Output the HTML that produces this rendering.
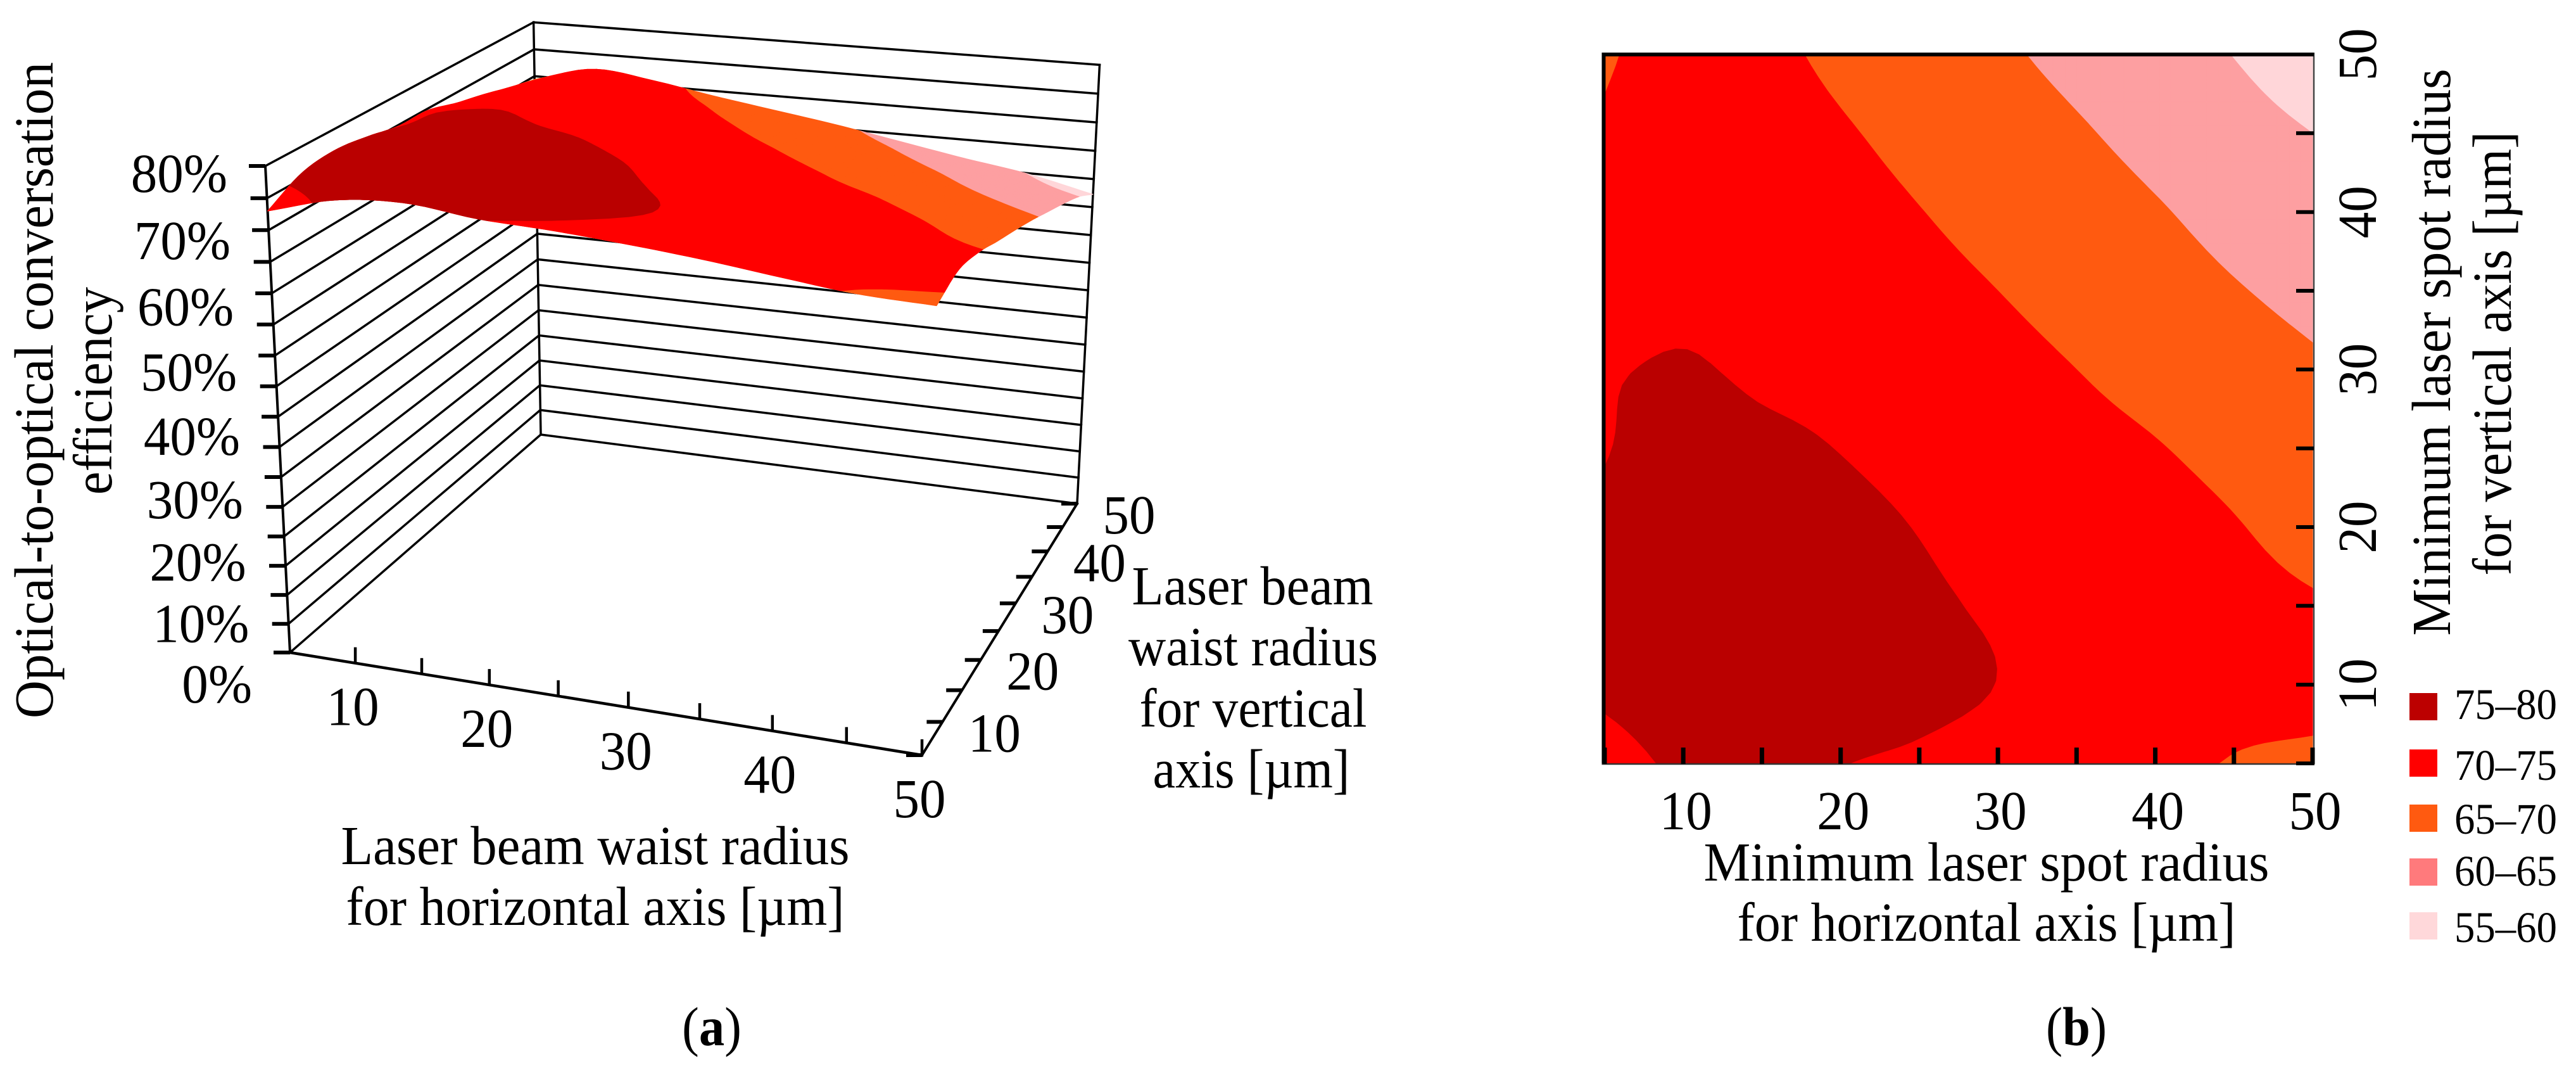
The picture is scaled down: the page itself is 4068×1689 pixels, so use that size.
<!DOCTYPE html>
<html lang="en">
<head>
<meta charset="utf-8">
<title>Optical-to-optical conversion efficiency</title>
<style>
html,body{margin:0;padding:0;background:#fff;width:4068px;height:1689px;overflow:hidden}
svg{display:block}
text{font-family:"Liberation Serif","Times New Roman",serif;fill:#000;font-size:87px}
.leg{font-size:69px}
</style>
</head>
<body>
<svg id="figure" xmlns="http://www.w3.org/2000/svg" width="4068" height="1689" viewBox="0 0 4068 1689">
  <rect x="0" y="0" width="4068" height="1689" fill="#fff"/>
  <g id="panelA"></g>
  <g id="panelB"></g>

  <text transform="translate(83,616) rotate(-90)" text-anchor="middle" textLength="1036" lengthAdjust="spacingAndGlyphs">Optical-to-optical conversation</text>
  <text transform="translate(176,617) rotate(-90)" text-anchor="middle" textLength="328" lengthAdjust="spacingAndGlyphs">efficiency</text>
  <text x="940" y="1364" text-anchor="middle" textLength="803" lengthAdjust="spacingAndGlyphs">Laser beam waist radius</text>
  <text x="940" y="1460" text-anchor="middle" textLength="787" lengthAdjust="spacingAndGlyphs">for horizontal axis [µm]</text>
  <text x="1978" y="954" text-anchor="middle" textLength="381" lengthAdjust="spacingAndGlyphs">Laser beam</text>
  <text x="1979" y="1050" text-anchor="middle" textLength="394" lengthAdjust="spacingAndGlyphs">waist radius</text>
  <text x="1979" y="1147" text-anchor="middle" textLength="359" lengthAdjust="spacingAndGlyphs">for vertical</text>
  <text x="1976" y="1243" text-anchor="middle" textLength="311" lengthAdjust="spacingAndGlyphs">axis [µm]</text>
  <text x="1124" y="1650" text-anchor="middle" textLength="94" lengthAdjust="spacingAndGlyphs">(<tspan font-weight="bold">a</tspan>)</text>

  <text x="3137" y="1390" text-anchor="middle" textLength="893" lengthAdjust="spacingAndGlyphs">Minimum laser spot radius</text>
  <text x="3137" y="1485" text-anchor="middle" textLength="787" lengthAdjust="spacingAndGlyphs">for horizontal axis [µm]</text>
  <text transform="translate(3869,556) rotate(-90)" text-anchor="middle" textLength="895" lengthAdjust="spacingAndGlyphs">Minimum laser spot radius</text>
  <text transform="translate(3965,558) rotate(-90)" text-anchor="middle" textLength="701" lengthAdjust="spacingAndGlyphs">for vertical axis [µm]</text>
  <text x="3279" y="1650" text-anchor="middle" textLength="96" lengthAdjust="spacingAndGlyphs">(<tspan font-weight="bold">b</tspan>)</text>

  <g id="legend"></g>
</svg>
<script>
// ---- data ----
const xValues = [5, 10, 15, 20, 25, 30, 35, 40, 45, 50];
const yValues = [5, 10, 15, 20, 25, 30, 35, 40, 45, 50];
// efficiency in %, one row per yValues entry, one column per xValues entry
const zGrid = [
  [73.0, 75.8, 76.4, 75.1, 74.5, 73.6, 72.5, 71.1, 69.8, 69.3],
  [75.9, 77.5, 77.6, 76.8, 75.9, 74.95, 73.4, 71.9, 71.2, 71.0],
  [76.6, 78.0, 77.8, 76.8, 75.6, 74.5, 73.1, 72.0, 71.0, 70.3],
  [75.9, 77.6, 77.0, 76.1, 74.85, 73.4, 72.3, 71.3, 70.2, 68.7],
  [74.8, 76.7, 75.8, 74.9, 73.6, 72.3, 71.2, 70.2, 68.8, 67.2],
  [74.7, 75.3, 74.4, 73.8, 72.4, 71.2, 70.0, 68.6, 67.0, 65.6],
  [73.2, 74.3, 73.6, 72.7, 71.3, 70.0, 68.6, 67.0, 65.3, 63.8],
  [72.0, 73.6, 72.8, 71.5, 70.1, 68.6, 67.2, 65.4, 63.5, 62.0],
  [70.6, 72.8, 71.9, 70.4, 68.8, 67.2, 65.5, 63.5, 61.7, 60.0],
  [69.4, 72.2, 71.0, 69.1, 67.4, 65.7, 63.7, 61.7, 59.9, 57.3]
];
const zTicks = [0, 5, 10, 15, 20, 25, 30, 35, 40, 45, 50, 55, 60, 65, 70, 75, 80];
const zTickLabels = [0, 10, 20, 30, 40, 50, 60, 70, 80];
const horizontalTickLabels = [10, 20, 30, 40, 50];
const bandFloors = [0, 60, 65, 70, 75];
const bandColors = ["#FFD6D9", "#FD9FA1", "#FF5A10", "#FF0000", "#BA0000"];
const legendLabels = ["75–80", "70–75", "65–70", "60–65", "55–60"];
const legendColors = ["#BC0000", "#FF0000", "#FF5A10", "#FF7A7C", "#FFD8DA"];

// ---- helpers ----
const SVGNS = "http://www.w3.org/2000/svg";
const WIDTH_RATIO = 83 / 87;
function addLine(parent, name, x1, y1, x2, y2, w) {
  const el = document.createElementNS(SVGNS, "line");
  
  
  el.setAttribute("x1", x1.toFixed(1));
  el.setAttribute("y1", y1.toFixed(1));
  el.setAttribute("x2", x2.toFixed(1));
  el.setAttribute("y2", y2.toFixed(1));
  el.setAttribute("stroke", "#000");
  el.setAttribute("stroke-width", w);
  el.setAttribute("stroke-linecap", "square");
  parent.appendChild(el);
  return el;
}
function addTick(parent, name, x1, y1, x2, y2, w, color) {
  const el = addLine(parent, name, x1, y1, x2, y2, w);
  el.setAttribute("stroke-linecap", "butt");
  if (color) el.setAttribute("stroke", color);
  return el;
}
function addText(parent, name, x, y, str, anchor, rotate, cls) {
  const el = document.createElementNS(SVGNS, "text");
  
  
  if (rotate) {
    el.setAttribute("transform", "translate(" + x + "," + y + ") rotate(" + rotate + ")");
  } else {
    el.setAttribute("x", x);
    el.setAttribute("y", y);
  }
  el.setAttribute("text-anchor", anchor);
  if (cls) el.setAttribute("class", cls);
  el.textContent = str;
  parent.appendChild(el);
  el.setAttribute("textLength", (el.getComputedTextLength() * WIDTH_RATIO).toFixed(1));
  el.setAttribute("lengthAdjust", "spacingAndGlyphs");
  return el;
}
function addPath(parent, name, d, color) {
  const el = document.createElementNS(SVGNS, "path");
  
  
  el.setAttribute("d", d);
  el.setAttribute("fill", color);
  el.setAttribute("stroke", color);
  el.setAttribute("stroke-width", "1");
  el.setAttribute("stroke-linejoin", "round");
  parent.appendChild(el);
  return el;
}

// ---- surface sampling (bicubic through the grid) ----
function gridAt(i, j) {
  const n = zGrid.length - 1, m = zGrid[0].length - 1;
  const ci = Math.max(0, Math.min(n, i)), cj = Math.max(0, Math.min(m, j));
  let v = zGrid[ci][cj];
  if (i < 0) v += (zGrid[0][cj] - zGrid[1][cj]) * -i;
  if (i > n) v += (zGrid[n][cj] - zGrid[n - 1][cj]) * (i - n);
  if (j < 0) v += (zGrid[ci][0] - zGrid[ci][1]) * -j;
  if (j > m) v += (zGrid[ci][m] - zGrid[ci][m - 1]) * (j - m);
  return v;
}
function cr(a, b, c, d, t) {
  return b + 0.5 * t * (c - a + t * (2 * a - 5 * b + 4 * c - d + t * (3 * (b - c) + d - a)));
}
function surfaceZ(x, y) {
  const step = xValues[1] - xValues[0];
  const fx = Math.min((x - xValues[0]) / step, xValues.length - 1.000001);
  const fy = Math.min((y - yValues[0]) / step, yValues.length - 1.000001);
  const j = Math.floor(fx), i = Math.floor(fy);
  const rows = [];
  for (let r = -1; r <= 2; r++) {
    rows.push(cr(gridAt(i + r, j - 1), gridAt(i + r, j), gridAt(i + r, j + 1), gridAt(i + r, j + 2), fx - j));
  }
  return cr(rows[0], rows[1], rows[2], rows[3], fy - i);
}
function clipAbove(poly, level) {
  const out = [];
  for (let k = 0; k < poly.length; k++) {
    const p = poly[k], q = poly[(k + 1) % poly.length];
    const pin = p.z >= level, qin = q.z >= level;
    if (pin) out.push(p);
    if (pin !== qin) {
      const t = (level - p.z) / (q.z - p.z);
      out.push({ x: p.x + (q.x - p.x) * t, y: p.y + (q.y - p.y) * t, z: level });
    }
  }
  return out;
}
const SAMPLES = 60;
const xMin = xValues[0], xMax = xValues[xValues.length - 1];
const yMin = yValues[0], yMax = yValues[yValues.length - 1];
const lattice = [];
for (let r = 0; r <= SAMPLES; r++) {
  const row = [];
  for (let c = 0; c <= SAMPLES; c++) {
    const x = xMin + (xMax - xMin) * c / SAMPLES, y = yMin + (yMax - yMin) * r / SAMPLES;
    row.push({ x: x, y: y, z: surfaceZ(x, y) });
  }
  lattice.push(row);
}
function bandPath(level, toScreen) {
  const parts = [];
  for (let r = 0; r < SAMPLES; r++) {
    for (let c = 0; c < SAMPLES; c++) {
      const poly = clipAbove([lattice[r][c], lattice[r][c + 1], lattice[r + 1][c + 1], lattice[r + 1][c]], level);
      if (poly.length < 3) continue;
      let d = "";
      poly.forEach(function (p, k) {
        const s = toScreen(p);
        d += (k ? "L" : "M") + s[0].toFixed(1) + " " + s[1].toFixed(1);
      });
      parts.push(d + "Z");
    }
  }
  return parts.join("");
}

// ---- panel (a): projective camera fitted to the cube corners ----
const cornerA = [458, 1030], cornerB = [1456, 1192], cornerC = [1701, 795], cornerD = [854, 686];
const cornerATop = [419, 262], cornerDTop = [842, 34];
const camera = (function () {
  const bc = [cornerB[0] - cornerC[0], cornerB[1] - cornerC[1]];
  const dc = [cornerD[0] - cornerC[0], cornerD[1] - cornerC[1]];
  const rhs = [cornerC[0] - cornerB[0] - cornerD[0] + cornerA[0], cornerC[1] - cornerB[1] - cornerD[1] + cornerA[1]];
  const det = bc[0] * dc[1] - dc[0] * bc[1];
  const g = (rhs[0] * dc[1] - dc[0] * rhs[1]) / det;
  const h = (bc[0] * rhs[1] - rhs[0] * bc[1]) / det;
  const v = [0, 1].map(function (n) {
    return (cornerD[n] - cornerDTop[n]) * (1 + h) + cornerATop[n] - cornerA[n];
  });
  const e = [cornerDTop[0] - cornerATop[0], cornerDTop[1] - cornerATop[1]];
  const k = (v[0] * e[0] + v[1] * e[1]) / (e[0] * e[0] + e[1] * e[1]);
  return { g: g, h: h, k: k };
})();
function project(x, y, z) {
  const u = (x - xMin) / (xMax - xMin), v = (y - yMin) / (yMax - yMin), w = z / 80;
  const den = 1 + camera.g * u + camera.h * v + camera.k * w;
  const res = [0, 1].map(function (n) {
    const a1 = cornerB[n] * (1 + camera.g) - cornerA[n];
    const a2 = cornerD[n] * (1 + camera.h) - cornerA[n];
    const a3 = cornerATop[n] * (1 + camera.k) - cornerA[n];
    return (a1 * u + a2 * v + a3 * w + cornerA[n]) / den;
  });
  return res;
}

const panelA = document.getElementById("panelA");
// walls
zTicks.forEach(function (z) {
  const a = project(xMin, yMin, z), d = project(xMin, yMax, z), c = project(xMax, yMax, z);
  addLine(panelA, "left-wall-gridline-" + z, a[0], a[1], d[0], d[1], 3.5);
  addLine(panelA, "back-wall-gridline-" + z, d[0], d[1], c[0], c[1], 3.5);
});
[[xMin, yMin, "z-axis-line", 4], [xMin, yMax, "back-left-edge", 3.5], [xMax, yMax, "back-right-edge", 3.5]].forEach(function (e) {
  const p = project(e[0], e[1], 0), q = project(e[0], e[1], 80);
  addLine(panelA, e[2], p[0], p[1], q[0], q[1], e[3]);
});
// floor axes
(function () {
  const a = project(xMin, yMin, 0), b = project(xMax, yMin, 0), c = project(xMax, yMax, 0);
  addLine(panelA, "x-axis-line", a[0], a[1], b[0], b[1], 4.5);
  addLine(panelA, "y-axis-line", b[0], b[1], c[0], c[1], 4);
})();
// z ticks and labels
zTicks.forEach(function (z) {
  const p = project(xMin, yMin, z);
  addTick(panelA, "z-tick-" + z, p[0] - 26, p[1], p[0], p[1], 6);
});
zTickLabels.forEach(function (z) {
  const p = project(xMin, yMin, z);
  addText(panelA, "z-tick-label-" + z, (p[0] - 60).toFixed(1), (p[1] + 41 + (80 - z) / 80 * 38).toFixed(1), z + "%", "end");
});
// x ticks and labels
xValues.forEach(function (x) {
  if (x === xMin) return;
  const p = project(x, yMin, 0);
  addTick(panelA, "x-tick-" + x, p[0], p[1] - 25, p[0], p[1], 4.5);
});
horizontalTickLabels.forEach(function (x) {
  const p = project(x, yMin, 0);
  addText(panelA, "x-tick-label-" + x, (p[0] - 4).toFixed(1), (p[1] + 98).toFixed(1), String(x), "middle");
});
// y ticks and labels
yValues.forEach(function (y) {
  const p = project(xMax, y, 0);
  addTick(panelA, "y-tick-" + y, p[0] - 25, p[1], p[0], p[1], 6);
});
horizontalTickLabels.forEach(function (y) {
  const p = project(xMax, y, 0);
  addText(panelA, "y-tick-label-" + y, (p[0] + 82).toFixed(1), (p[1] + 47).toFixed(1), String(y), "middle");
});
// surface
bandFloors.forEach(function (level, i) {
  addPath(panelA, "surface-band-" + level, bandPath(level, function (p) { return project(p.x, p.y, p.z); }), bandColors[i]);
});

// ---- panel (b): filled contours ----
const plotLeft = 2534, plotRight = 3652, plotTop = 86, plotBottom = 1205;
function xScale(x) { return plotLeft + (x - xMin) / (xMax - xMin) * (plotRight - plotLeft); }
function yScale(y) { return plotBottom - (y - yMin) / (yMax - yMin) * (plotBottom - plotTop); }
const panelB = document.getElementById("panelB");
bandFloors.forEach(function (level, i) {
  addPath(panelB, "contour-band-" + level, bandPath(level, function (p) { return [xScale(p.x), yScale(p.y)]; }), bandColors[i]);
});
addTick(panelB, "plot-frame-left", 2532.5, 83, 2532.5, 1207, 6);
addTick(panelB, "plot-frame-top", 2529.5, 86, 3655, 86, 6);
addTick(panelB, "plot-frame-right", 3654, 83, 3654, 1208, 2.5, "#444");
addTick(panelB, "plot-frame-bottom", 2529.5, 1206, 3655, 1206, 2.5, "#333");
xValues.forEach(function (x) {
  addTick(panelB, "b-x-tick-" + x, xScale(x), 1206, xScale(x), 1180, 7);
});
yValues.forEach(function (y) {
  addTick(panelB, "b-y-tick-" + y, 3654, yScale(y), 3626, yScale(y), 6);
});
horizontalTickLabels.forEach(function (x) {
  addText(panelB, "b-x-tick-label-" + x, (xScale(x) + 4).toFixed(1), 1309, String(x), "middle");
});
horizontalTickLabels.forEach(function (y) {
  addText(panelB, "b-y-tick-label-" + y, 3752, yScale(y).toFixed(1), String(y), "middle", -90);
});

// ---- legend ----
const legend = document.getElementById("legend");
const legendSwatchTops = [1094, 1183, 1270, 1355, 1440];
const legendTextBaselines = [1135, 1231, 1316, 1398, 1487];
legendLabels.forEach(function (label, i) {
  const r = document.createElementNS(SVGNS, "rect");
  
  
  r.setAttribute("x", 3805);
  r.setAttribute("y", legendSwatchTops[i]);
  r.setAttribute("width", 44);
  r.setAttribute("height", 43);
  r.setAttribute("fill", legendColors[i]);
  legend.appendChild(r);
  const t = addText(legend, "legend-label-" + label, 3957, legendTextBaselines[i], label, "middle", 0, "leg");
  t.setAttribute("textLength", "162");
});
</script>
</body>
</html>
